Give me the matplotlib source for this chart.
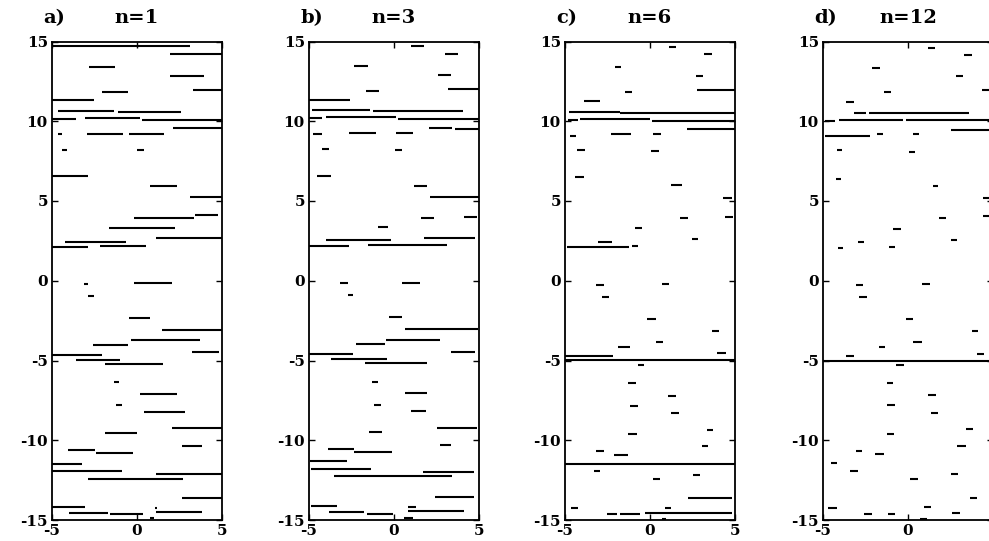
import matplotlib
matplotlib.use("Agg")
import matplotlib.pyplot as plt

# each segment: (level, x_start, x_end)
seg_a = [(14.73, -5, 3.14), (14.22, 1.92, 5), (13.43, -2.84, -1.27), (12.86, 1.96, 3.92),
         (11.96, 3.29, 5), (11.86, -2.06, -0.55), (11.33, -5, -2.51), (10.64, -4.67, -1.37),
         (10.58, -1.14, 2.61), (10.16, -5, -3.57), (10.18, -3.04, 0.2), (10.07, 0.29, 5),
         (9.59, 2.12, 5), (9.23, -2.94, -0.82), (9.23, -0.49, 1.57), (9.17, -4.67, -4.41),
         (8.2, -4.41, -4.12), (8.19, 0.0, 0.43), (6.55, -5, -2.9), (5.94, 0.78, 2.35),
         (5.25, 3.1, 5), (4.14, 3.43, 4.75), (3.91, -0.2, 3.33), (3.3, -1.67, 2.22),
         (2.67, 1.12, 5), (2.44, -4.22, -0.63), (2.11, -5, -2.9), (2.15, -2.16, 0.55),
         (-0.19, -3.14, -2.9), (-0.15, -0.2, 2.06), (-0.95, -2.88, -2.55), (-2.33, -0.49, 0.75),
         (-3.07, 1.47, 5), (-3.72, -0.35, 3.73), (-4.02, -2.59, -0.53), (-4.48, 3.24, 4.8),
         (-4.63, -5, -2.06), (-4.97, -3.57, -1.02), (-5.22, -1.86, 1.53), (-6.34, -1.33, -1.08),
         (-7.08, 0.16, 2.35), (-7.78, -1.22, -0.88), (-8.2, 0.43, 2.84), (-9.26, 2.06, 5),
         (-9.56, -1.86, 0.0), (-10.34, 2.65, 3.82), (-10.63, -4.08, -2.45), (-10.8, -2.39, -0.24),
         (-11.46, -5, -3.24), (-11.94, -5, -0.88), (-12.09, 1.14, 5), (-12.41, -2.88, 2.71),
         (-13.59, 2.65, 5), (-14.21, -5, -3.04), (-14.23, 1.04, 1.18), (-14.48, 1.14, 3.82),
         (-14.57, -4.02, -1.73), (-14.65, -1.57, 0.35), (-14.9, 0.78, 1.02)]

seg_b = [(14.69, 1.0, 1.79), (14.23, 2.98, 3.77), (13.49, -2.37, -1.53), (12.87, 2.58, 3.34),
         (12.01, 3.18, 5), (11.92, -1.67, -0.88), (11.34, -5, -2.56), (10.69, -4.84, -1.42),
         (10.63, -1.22, 4.07), (10.19, -5, -4.25), (10.25, -3.99, 0.11), (10.15, 0.21, 5),
         (9.56, 2.03, 3.42), (9.54, 3.57, 5), (9.29, -2.66, -1.08), (9.29, 0.11, 1.14),
         (9.21, -4.78, -4.25), (8.26, -4.25, -3.85), (8.2, 0.05, 0.47), (6.57, -4.54, -3.71),
         (5.96, 1.16, 1.95), (5.27, 2.09, 5), (4.02, 4.13, 4.88), (3.91, 1.59, 2.35),
         (3.35, -0.94, -0.33), (2.68, 1.75, 4.76), (2.55, -3.99, -0.19), (2.18, -5, -2.66),
         (2.22, -1.51, 3.14),
         (-0.15, -3.2, -2.72), (-0.15, 0.47, 1.55), (-0.91, -2.72, -2.41), (-2.27, -0.29, 0.45),
         (-3.05, 0.64, 4.92), (-3.71, -0.49, 2.72), (-3.96, -2.21, -0.54), (-4.48, 3.34, 4.76),
         (-4.59, -5, -2.41), (-4.91, -3.69, -0.39), (-5.16, -1.71, 1.95), (-6.32, -1.32, -0.92),
         (-7.05, 0.66, 1.93), (-7.77, -1.18, -0.78), (-8.19, 1.0, 1.89), (-9.22, 2.54, 4.86),
         (-9.49, -1.46, -0.68), (-10.29, 2.7, 3.34), (-10.55, -3.89, -2.33), (-10.76, -2.37, -0.09),
         (-11.33, -4.94, -2.76), (-11.79, -4.88, -1.34), (-12.02, 1.69, 4.72), (-12.27, -3.55, 3.42),
         (-13.58, 2.43, 4.72), (-14.11, -4.9, -3.36), (-14.17, 0.8, 1.3), (-14.44, 0.8, 4.13),
         (-14.51, -3.85, -1.77), (-14.61, -1.57, -0.03), (-14.88, 0.56, 1.1)]

seg_c = [(14.65, 1.13, 1.54), (14.19, 3.2, 3.63), (13.38, -2.08, -1.69), (12.81, 2.71, 3.14),
         (11.98, 2.75, 5), (11.83, -1.5, -1.07), (11.27, -3.9, -2.96), (10.56, -4.77, -1.75),
         (10.52, -1.75, 5), (10.06, -4.84, -4.26), (10.17, -4.1, 0.01), (10.0, 0.11, 5),
         (9.52, 2.2, 5), (9.19, -2.3, -1.13), (9.17, 0.17, 0.64), (9.1, -4.69, -4.33),
         (8.21, -4.3, -3.85), (8.13, 0.05, 0.5), (6.52, -4.39, -3.9), (5.98, 1.22, 1.87),
         (5.21, 4.31, 4.8), (4.02, 4.41, 4.86), (3.92, 1.77, 2.26), (3.29, -0.91, -0.48),
         (2.6, 2.46, 2.85), (2.46, -3.08, -2.24), (2.13, -4.88, -1.26), (2.17, -1.07, -0.68),
         (-0.27, -3.16, -2.69), (-0.23, 0.69, 1.13), (-1.01, -2.83, -2.4), (-2.38, -0.15, 0.34),
         (-3.12, 3.63, 4.08), (-3.81, 0.34, 0.79), (-4.15, -1.89, -1.2), (-4.55, 3.96, 4.45),
         (-4.69, -5, -2.18), (-4.99, -5, 5), (-5.26, -0.71, -0.38), (-6.42, -1.32, -0.83),
         (-7.2, 1.05, 1.52), (-7.85, -1.16, -0.68), (-8.32, 1.22, 1.73), (-9.33, 3.38, 3.73),
         (-9.62, -1.3, -0.77), (-10.38, 3.04, 3.43), (-10.67, -3.16, -2.69), (-10.91, -2.14, -1.32),
         (-11.47, -5, 5), (-11.94, -3.32, -2.93), (-12.15, 2.51, 2.95), (-12.46, 0.15, 0.6),
         (-13.64, 2.26, 4.8), (-14.25, -4.63, -4.26), (-14.27, 0.89, 1.22), (-14.55, -0.28, 4.8),
         (-14.63, -2.53, -1.95), (-14.65, -1.75, -0.58), (-14.93, 0.69, 0.95)]

seg_d = [(14.6, 1.2, 1.59), (14.14, 3.29, 3.75), (13.31, -2.1, -1.65), (12.81, 2.82, 3.22),
         (11.95, 4.33, 4.8), (11.85, -1.39, -1.02), (11.2, -3.65, -3.18), (10.51, -3.16, -2.47),
         (10.51, -2.27, 3.61), (9.99, -4.88, -4.29), (10.09, -4.06, -0.27), (10.05, -0.14, 5),
         (9.45, 2.53, 5), (9.07, -4.88, -2.24), (9.18, -1.8, -1.45), (9.18, 0.27, 0.67),
         (8.17, -4.2, -3.9), (8.09, 0.08, 0.41), (6.4, -4.25, -3.96), (5.94, 1.45, 1.78),
         (5.17, 4.43, 4.8), (4.04, 4.43, 4.8), (3.91, 1.82, 2.22), (3.25, -0.9, -0.43),
         (2.58, 2.51, 2.86), (2.41, -2.92, -2.57), (2.08, -4.14, -3.84), (2.12, -1.1, -0.76),
         (-0.27, -3.06, -2.67), (-0.23, 0.8, 1.29), (-1.03, -2.86, -2.43), (-2.4, -0.12, 0.31),
         (-3.14, 3.75, 4.14), (-3.83, 0.31, 0.84), (-4.15, -1.69, -1.35), (-4.59, 4.08, 4.49),
         (-4.69, -3.65, -3.16), (-5.01, -5, 5), (-5.28, -0.73, -0.24), (-6.4, -1.25, -0.9),
         (-7.16, 1.16, 1.63), (-7.81, -1.25, -0.76), (-8.32, 1.35, 1.78), (-9.28, 3.41, 3.84),
         (-9.62, -1.25, -0.8), (-10.38, 2.9, 3.41), (-10.69, -3.08, -2.69), (-10.86, -1.94, -1.41),
         (-11.45, -4.55, -4.16), (-11.94, -3.41, -2.92), (-12.11, 2.51, 2.96), (-12.44, 0.12, 0.61),
         (-13.64, 3.65, 4.08), (-14.25, -4.69, -4.2), (-14.19, 0.96, 1.35), (-14.55, 2.57, 3.06),
         (-14.61, -2.57, -2.1), (-14.65, -1.2, -0.76), (-14.93, 0.71, 1.1)]

labels = ["a)", "b)", "c)", "d)"]
titles = ["n=1", "n=3", "n=6", "n=12"]
panels = [seg_a, seg_b, seg_c, seg_d]
lefts = [52, 309, 565, 823]  # pixel positions of the panels

plt.rcParams['font.family'] = ['DejaVu Serif']
plt.rcParams['axes.unicode_minus'] = False

W, H = 989, 541
fig = plt.figure(figsize=(W / 100, H / 100), dpi=100)

top_px, bot_px, width_px = 41.5, 520, 170
for i in range(4):
    # last panel runs past the right edge, as in the scan
    ax = fig.add_axes([lefts[i] / W, 1 - bot_px / H, width_px / W, (bot_px - top_px) / H])
    segs = panels[i]
    ys = [s[0] for s in segs]
    x0 = [s[1] for s in segs]
    x1 = [s[2] for s in segs]
    ax.hlines(ys, x0, x1, colors='black', linewidth=1.5)
    ax.set_xlim(-5, 5)
    ax.set_ylim(-15, 15)
    ax.set_xticks([-5, 0, 5])
    ax.set_yticks([-15, -10, -5, 0, 5, 10, 15])
    ax.tick_params(direction='in', length=4, width=1, top=True, right=True, pad=3,
                   labelsize=11)
    for lab in ax.get_xticklabels() + ax.get_yticklabels():
        lab.set_fontweight('bold')
    for sp in ax.spines.values():
        sp.set_linewidth(1.3)
    ax.text(-0.05, 1.049, labels[i], transform=ax.transAxes, ha='left', va='center',
            fontsize=14, fontweight='bold')
    ax.text(0.5, 1.049, titles[i], transform=ax.transAxes, ha='center', va='center',
            fontsize=14, fontweight='bold')

fig.savefig("out.png", dpi=100)
